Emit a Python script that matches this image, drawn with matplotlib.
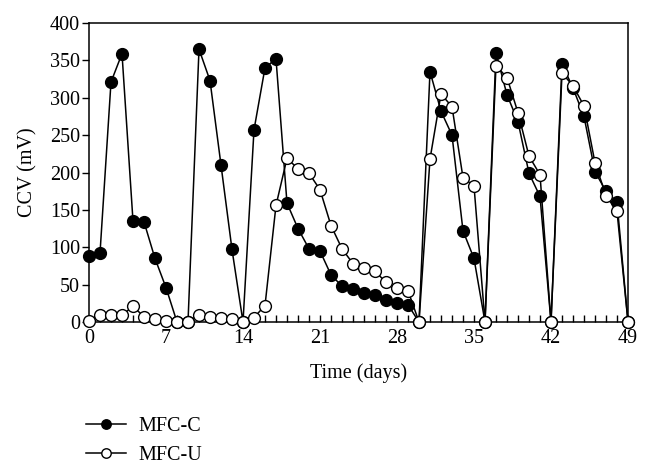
import matplotlib
matplotlib.use("Agg")
import matplotlib.pyplot as plt
import numpy as np

days = list(range(0, 50))
mfc_c = [88, 92, 321, 359, 135, 134, 85, 46, 0, 0,
         365, 323, 210, 97, 0, 257, 340, 352, 159, 125,
         98, 95, 63, 48, 44, 39, 36, 30, 25, 23,
         0, 335, 282, 250, 122, 85, 0, 360, 304, 268,
         199, 168, 0, 345, 313, 275, 201, 175, 160, 0]
mfc_u = [2, 9, 10, 9, 21, 7, 4, 2, 0, 0,
         10, 7, 5, 4, 0, 6, 22, 156, 219, 205,
         199, 177, 129, 98, 78, 72, 68, 53, 45, 42,
         0, 218, 305, 288, 193, 182, 0, 343, 327, 280,
         222, 197, 0, 333, 316, 289, 213, 169, 148, 0]
xticks = [0, 7, 14, 21, 28, 35, 42, 49]
yticks = [0, 50, 100, 150, 200, 250, 300, 350, 400]

plt.rcParams['font.family'] = ['Liberation Serif', 'DejaVu Serif']
FS = 14.5

fig = plt.figure(figsize=(6.51, 4.71), dpi=100)
ax = fig.add_axes([89/651, 1-322/471, (628-89)/651, (322-23)/471])

ax.plot(days, mfc_c, color='black', lw=1.1, marker='o', ms=8.5,
        mfc='black', mec='black', mew=1.0, label='MFC-C', clip_on=False, zorder=3)
ax.plot(days, mfc_u, color='black', lw=1.1, marker='o', ms=8.5,
        mfc='white', mec='black', mew=1.0, label='MFC-U', clip_on=False, zorder=4)

ax.set_xlim(0, 49)
ax.set_ylim(0, 400)
ax.set_xticks(xticks)
ax.set_xticks(np.arange(0, 50, 1), minor=True)
ax.set_yticks(yticks)
ax.tick_params(axis='x', which='both', direction='in', length=5, width=1, labelsize=FS, pad=5)
ax.tick_params(axis='y', which='major', direction='out', length=5, width=1, labelsize=FS, pad=1.5)
for s in ax.spines.values():
    s.set_linewidth(1.1)

ax.set_xlabel('Time (days)', fontsize=FS, labelpad=11)
ax.set_ylabel('CCV (mV)', fontsize=FS, labelpad=9)

fig.legend(loc='upper left', bbox_to_anchor=(86/651, 1-417/471), frameon=False,
           fontsize=FS, handlelength=2.0, handletextpad=0.6, labelspacing=0.5,
           borderpad=0, borderaxespad=0, markerscale=0.8)

fig.savefig('out.png', dpi=100)
